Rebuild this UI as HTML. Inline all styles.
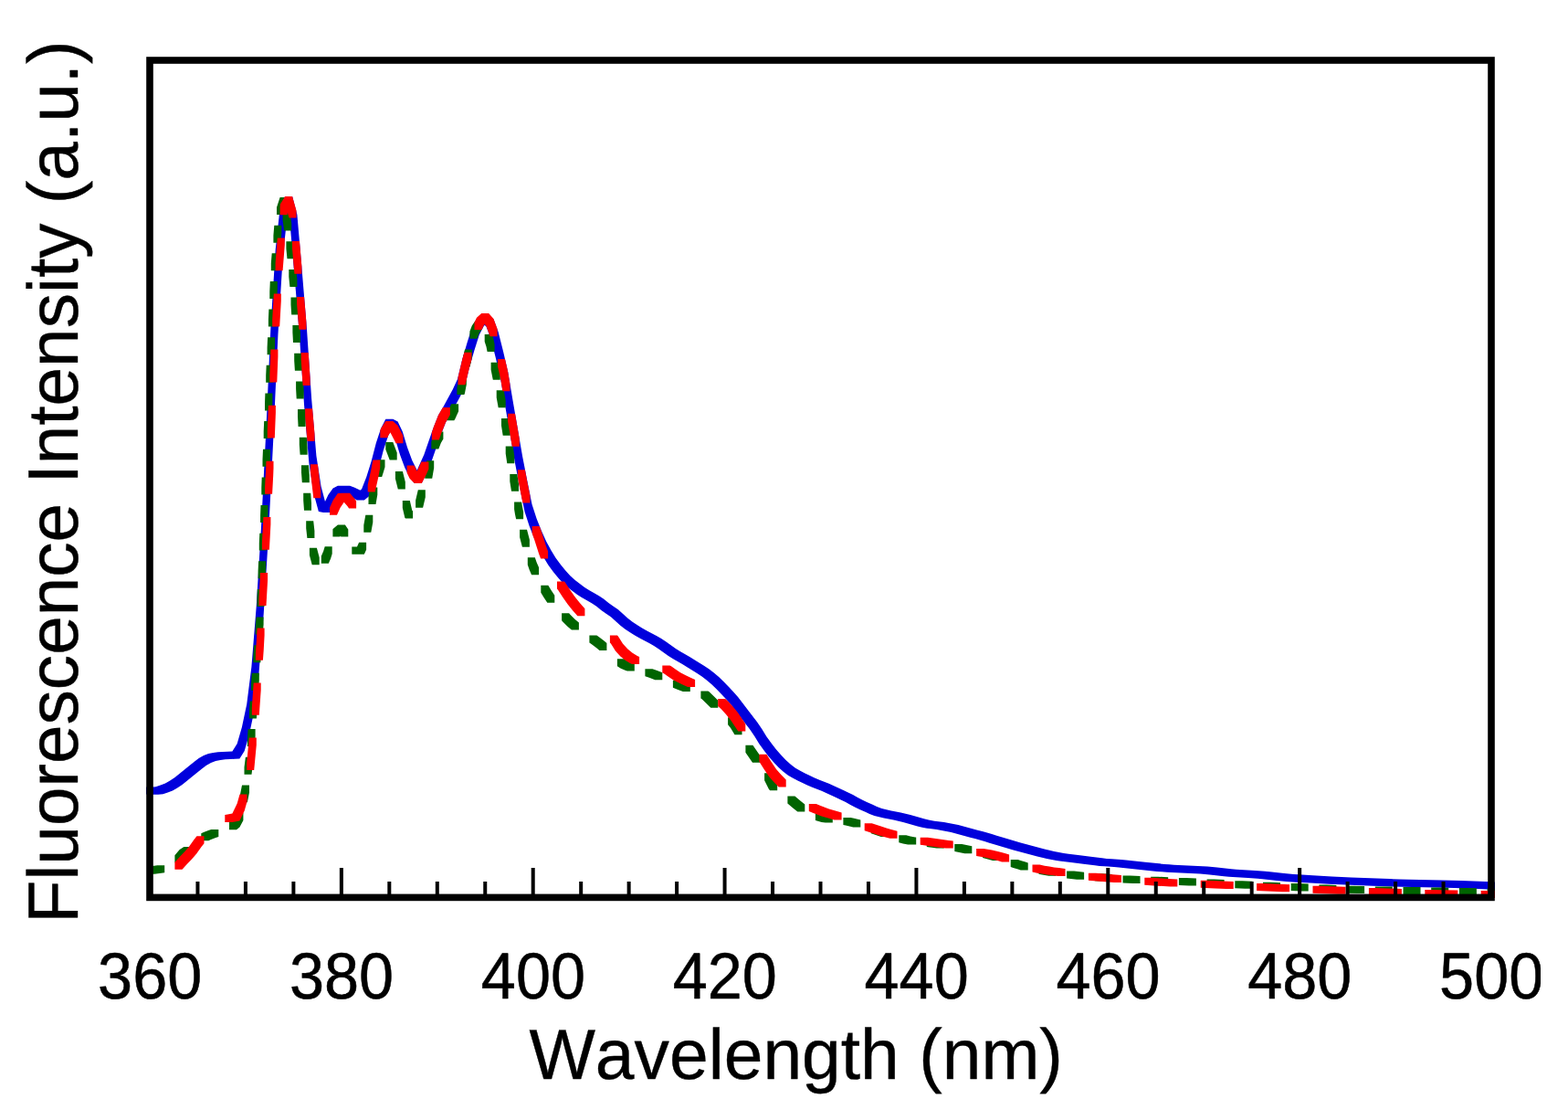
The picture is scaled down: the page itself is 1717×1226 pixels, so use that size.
<!DOCTYPE html>
<html lang="en"><head><meta charset="utf-8"><title>Fluorescence spectra</title>
<style>html,body{margin:0;padding:0;background:#fff}body{width:1717px;height:1226px;overflow:hidden}svg{display:block}</style>
</head><body>
<svg width="1717" height="1226" viewBox="0 0 1717 1226">
<rect width="1717" height="1226" fill="#fff"/>
<path d="M348.9 560.0L354.1 561.0L362.1 561.0L367.4 549.8L372.6 542.6L376.8 540.4L380.4 541.7L385.6 544.3L390.8 547.5L398.8 547.5L404.1 543.3L409.3 530.0L414.6 513.0L419.8 493.0L425.1 477.0L428.2 470.9L432.8 480.5L438.1 498.0L443.3 512.1L448.6 522.5L453.8 529.0L461.8 529.0L467.0 517.5L472.3 505.7L477.5 490.8L482.8 475.7L488.0 462.5L493.3 453.4L503.8 434.3L509.0 423.1L514.3 400.9L519.5 383.3L524.8 366.5L530.0 356.5L530.8 355.9L532.5 357.5L537.7 371.5L543.0 392.5L548.2 415.1L553.5 446.3L564.0 506.9L569.2 533.8L574.5 560.0L579.7 576.0L585.0 589.2L590.2 600.7L595.5 610.6L600.7 618.9L605.9 625.9L611.2 632.4L616.4 638.3L621.7 643.0L626.9 647.1L632.2 650.9L637.4 654.3L642.7 657.2L647.9 660.3L653.2 663.7L658.4 667.9L663.7 671.7L668.9 675.2L679.4 684.7L684.6 688.7L689.9 692.3L695.1 695.6L700.4 698.4L705.6 701.2L710.9 704.0L716.1 707.0L721.4 710.5L731.9 717.9L737.1 721.3L742.4 724.3L747.6 727.2L752.8 730.4L763.3 736.9L768.6 740.5L773.8 744.5L779.1 749.1L784.3 754.1L789.6 759.4L794.8 765.0L800.1 771.1L805.3 777.8L810.6 784.8L821.0 798.3L826.3 805.9L831.5 814.5L836.8 821.7L842.0 828.5L847.3 834.6L852.5 840.0L857.8 844.8L863.0 848.7L868.3 851.8L873.5 854.5L878.8 857.1L884.0 859.6L889.3 861.8L899.7 865.7L915.5 872.9L920.7 875.4L926.0 878.1L931.2 881.1L936.5 883.8L941.7 886.2L947.0 888.4L952.2 890.9L957.5 893.1L962.7 894.3L967.9 895.4L973.2 896.5L978.4 897.4L988.9 900.0L994.2 901.5L1004.7 904.6L1009.9 905.8L1015.2 906.7L1025.7 908.1L1030.9 909.0L1041.4 911.0L1062.4 916.8L1067.6 918.0L1072.9 919.4L1078.1 921.0L1083.4 922.7L1088.6 924.2L1109.6 930.4L1135.8 937.5L1141.1 938.8L1146.3 940.0L1151.6 941.1L1156.8 942.0L1162.1 942.8L1172.6 944.1L1188.3 945.9L1198.8 947.3L1204.0 947.9L1209.3 948.3L1219.8 949.1L1225.0 949.6L1246.0 951.8L1267.0 953.9L1272.2 954.3L1277.5 954.7L1282.7 955.0L1303.7 956.0L1309.0 956.2L1314.2 956.5L1319.5 956.9L1324.7 957.5L1340.4 959.3L1345.7 959.7L1366.7 961.1L1377.2 961.8L1382.4 962.3L1398.2 964.0L1403.4 964.5L1408.6 965.0L1419.1 965.7L1434.9 966.6L1455.9 967.7L1503.1 969.7L1518.8 970.3L1534.6 970.8L1571.3 971.5L1581.8 971.8L1592.3 972.1L1618.5 973.1L1629.0 973.4L1637.0 973.4L1637.0 965.4L1626.5 965.1L1600.3 964.1L1589.8 963.8L1579.3 963.5L1542.6 962.8L1532.1 962.5L1521.6 962.1L1479.6 960.4L1458.6 959.4L1437.6 958.3L1421.9 957.3L1416.6 957.0L1411.4 956.5L1406.2 956.0L1390.4 954.3L1385.2 953.8L1374.7 953.1L1353.7 951.7L1348.4 951.3L1332.7 949.5L1327.5 948.9L1322.2 948.5L1317.0 948.2L1311.7 948.0L1290.7 947.0L1285.5 946.7L1280.2 946.3L1275.0 945.9L1254.0 943.8L1233.0 941.6L1227.8 941.1L1217.3 940.3L1212.0 939.9L1206.8 939.3L1196.3 937.9L1180.6 936.1L1170.1 934.8L1164.8 934.0L1159.6 933.1L1154.3 932.0L1149.1 930.8L1143.8 929.5L1117.6 922.4L1096.6 916.2L1091.4 914.7L1086.1 913.0L1080.9 911.4L1075.6 910.0L1070.4 908.8L1049.4 903.0L1038.9 901.0L1033.7 900.1L1023.2 898.7L1017.9 897.8L1012.7 896.6L1002.2 893.5L996.9 892.0L986.4 889.4L981.2 888.5L975.9 887.4L970.7 886.3L965.5 885.1L960.2 882.9L955.0 880.4L949.7 878.2L944.5 875.8L939.2 873.1L934.0 870.1L928.7 867.4L923.5 864.9L907.7 857.7L897.3 853.8L892.0 851.6L886.8 849.1L881.5 846.5L876.3 843.8L871.0 840.7L865.8 836.8L860.5 832.0L855.3 826.6L850.0 820.5L844.8 813.7L839.5 806.5L834.3 797.9L829.0 790.3L818.6 776.8L813.3 769.8L808.1 763.1L802.8 757.0L797.6 751.4L792.3 746.1L787.1 741.1L781.8 736.5L776.6 732.5L771.3 728.9L760.8 722.4L755.6 719.2L750.4 716.3L745.1 713.3L739.9 709.9L729.4 702.5L724.1 699.0L718.9 696.0L713.6 693.2L708.4 690.4L703.1 687.6L697.9 684.3L692.6 680.7L687.4 676.7L676.9 667.2L671.7 663.7L666.4 659.9L661.2 655.7L655.9 652.3L650.7 649.2L645.4 646.3L640.2 642.9L634.9 639.1L629.7 635.0L624.4 630.3L619.2 624.4L613.9 617.9L608.7 610.9L603.5 602.6L598.2 592.7L593.0 581.2L587.7 568.0L582.5 552.0L577.2 525.8L572.0 498.9L561.5 438.3L556.2 407.1L551.0 384.5L545.7 363.5L540.5 349.5L535.2 344.4L527.2 344.4L522.0 348.5L516.8 358.5L511.5 375.3L506.3 392.9L501.0 415.1L495.8 426.3L485.3 445.4L480.0 454.5L474.8 467.7L469.5 482.8L464.3 497.7L459.0 509.5L456.7 514.7L456.6 514.5L451.3 504.1L446.1 490.0L440.8 472.5L435.6 461.5L430.3 458.8L422.3 458.8L417.1 469.0L411.8 485.0L406.6 505.0L401.3 522.0L396.1 535.3L394.3 536.7L393.6 536.3L388.4 533.7L383.1 531.8L375.1 531.8L369.9 531.8L364.6 534.6L359.4 541.8L356.0 548.9L351.6 532.5L346.4 499.0L341.1 436.0L335.9 359.0L330.6 295.0L325.4 235.0L320.1 215.0L312.1 215.0L306.9 225.0L301.7 273.0L296.4 359.0L291.2 474.0L285.9 579.0L280.7 664.0L275.4 730.0L270.2 771.0L264.9 796.0L259.7 814.0L254.4 822.5L249.2 822.8L243.9 823.0L238.7 823.3L233.4 824.0L228.2 825.0L223.0 827.0L217.7 830.0L212.5 834.0L207.2 838.3L191.5 851.0L186.2 854.5L181.0 857.5L175.7 859.5L170.5 861.2L167.9 861.5L160.0 861.5L160.0 869.5L165.2 869.8L173.2 869.8L178.5 869.2L183.7 867.5L189.0 865.5L194.2 862.5L199.5 859.0L215.2 846.3L220.5 842.0L225.7 838.0L231.0 835.0L236.2 833.0L241.4 832.0L246.7 831.3L251.9 831.0L257.2 830.8L262.4 830.5L267.7 822.0L272.9 804.0L278.2 779.0L283.4 738.0L288.7 672.0L293.9 587.0L299.2 482.0L304.4 367.0L309.7 281.0L314.9 233.4L317.4 243.0L322.6 303.0L327.9 367.0L333.1 444.0L338.4 507.0L343.6 540.5Z" fill="#0000dc"/>
<path d="M170.5 947.6L161.2 948.8L161.2 956.8L169.2 956.8L178.5 955.6L180.2 955.2L180.2 947.2L172.2 947.2ZM196.7 930.0L191.4 936.3L191.4 944.3L199.4 944.3L204.7 938.0L209.4 934.9L209.4 926.9L201.4 926.9ZM228.2 908.9L223.0 910.9L220.3 912.3L220.3 920.3L228.3 920.3L231.0 918.9L236.2 916.9L239.3 916.1L239.3 908.1L231.3 908.1ZM254.4 897.5L251.0 900.3L251.0 908.3L259.0 908.3L262.4 905.5L266.4 898.0L266.4 890.0L258.4 890.0ZM265.0 859.4L262.9 870.3L262.9 878.3L270.9 878.3L273.0 867.4L273.0 859.4ZM268.9 828.7L267.5 839.7L267.5 847.7L275.5 847.7L276.9 836.7L276.9 828.7ZM271.6 798.1L270.9 809.1L270.9 817.1L278.9 817.1L279.6 806.1L279.6 798.1ZM273.7 767.5L272.9 778.4L272.9 786.4L280.9 786.4L281.7 775.5L281.7 767.5ZM275.8 736.8L275.0 747.8L275.0 755.8L283.0 755.8L283.8 744.8L283.8 736.8ZM278.2 706.2L277.3 717.2L277.3 725.2L285.3 725.2L286.2 714.2L286.2 706.2ZM280.6 675.6L279.7 686.5L279.7 694.5L287.7 694.5L288.6 683.6L288.6 675.6ZM281.8 644.9L281.4 655.9L281.4 663.9L289.4 663.9L289.8 652.9L289.8 644.9ZM283.1 614.3L282.6 625.3L282.6 633.3L290.6 633.3L291.1 622.3L291.1 614.3ZM284.3 583.7L283.8 594.6L283.8 602.6L291.8 602.6L292.3 591.7L292.3 583.7ZM285.5 553.0L285.1 564.0L285.1 572.0L293.1 572.0L293.5 561.0L293.5 553.0ZM286.7 522.4L286.3 533.4L286.3 541.4L294.3 541.4L294.7 530.4L294.7 522.4ZM288.0 491.7L287.5 502.7L287.5 510.7L295.5 510.7L296.0 499.7L296.0 491.7ZM289.2 461.1L288.7 472.1L288.7 480.1L296.7 480.1L297.2 469.1L297.2 461.1ZM290.4 430.5L290.0 441.5L290.0 449.5L298.0 449.5L298.4 438.5L298.4 430.5ZM291.7 399.8L291.2 410.8L291.2 418.8L299.2 418.8L299.7 407.8L299.7 399.8ZM293.1 369.2L292.6 380.2L292.6 388.2L300.6 388.2L301.1 377.2L301.1 369.2ZM294.4 338.6L293.9 349.6L293.9 357.6L301.9 357.6L302.4 346.6L302.4 338.6ZM295.8 307.9L295.3 318.9L295.3 326.9L303.3 326.9L303.8 315.9L303.8 307.9ZM297.7 277.3L296.8 288.3L296.8 296.3L304.8 296.3L305.7 285.3L305.7 277.3ZM300.3 246.7L299.4 257.7L299.4 265.7L307.4 265.7L308.3 254.7L308.3 246.7ZM306.6 216.0L303.0 227.0L303.0 235.0L311.0 235.0L314.6 224.0L314.6 216.0ZM309.6 233.6L309.6 241.6L311.2 252.6L319.2 252.6L319.2 244.6L317.6 233.6ZM313.4 264.2L313.4 272.2L314.5 283.2L322.5 283.2L322.5 275.2L321.4 264.2ZM316.3 294.9L316.3 302.9L317.4 313.9L325.4 313.9L325.4 305.9L324.3 294.9ZM318.5 325.5L318.5 333.5L319.2 344.5L327.2 344.5L327.2 336.5L326.5 325.5ZM320.4 356.1L320.4 364.1L321.0 375.1L329.0 375.1L329.0 367.1L328.4 356.1ZM322.2 394.8L322.9 405.8L330.9 405.8L330.9 397.8L330.2 386.8L322.2 386.8ZM324.1 417.4L324.1 425.4L324.7 436.4L332.7 436.4L332.7 428.4L332.1 417.4ZM326.0 448.0L326.0 456.0L326.6 467.0L334.6 467.0L334.6 459.0L334.0 448.0ZM327.8 486.7L328.6 497.7L336.6 497.7L336.6 489.7L335.8 478.7L327.8 478.7ZM330.0 509.3L330.0 517.3L330.8 528.2L338.8 528.2L338.8 520.2L338.0 509.3ZM332.2 539.8L332.2 547.8L333.0 558.8L341.0 558.8L341.0 550.8L340.2 539.8ZM335.2 570.3L335.2 578.3L336.4 588.9L344.4 588.9L344.4 580.9L343.2 570.3ZM338.9 599.7L338.9 607.7L341.7 618.2L349.7 618.2L349.7 610.2L346.9 599.7ZM354.1 603.4L351.8 608.7L351.8 616.7L359.8 616.7L362.1 611.4L363.7 606.2L363.7 598.2L355.7 598.2ZM364.6 579.0L364.4 579.4L364.4 587.4L372.4 587.4L372.6 587.0L372.9 586.8L373.3 587.4L381.3 587.4L381.3 579.4L377.9 574.4L369.9 574.4ZM391.0 598.4L385.3 598.4L385.3 606.4L385.6 606.7L398.8 606.7L401.1 601.7L401.1 593.7L393.1 593.7ZM400.3 563.7L398.3 574.7L398.3 582.7L406.3 582.7L408.3 571.7L408.3 563.7ZM405.3 533.4L403.5 544.1L403.5 552.1L411.5 552.1L413.3 541.4L413.3 533.4ZM411.8 509.0L410.2 514.1L410.2 522.1L418.2 522.1L419.8 517.0L421.5 511.3L421.5 503.3L413.5 503.3ZM422.3 484.0L422.3 492.0L426.7 503.5L434.7 503.5L434.7 495.5L430.3 484.0ZM432.9 516.1L432.9 524.1L435.8 535.5L443.8 535.5L443.8 527.5L440.9 516.1ZM440.8 556.1L443.3 566.8L444.1 567.6L452.1 567.6L452.1 559.6L451.3 558.8L448.8 548.1L440.8 548.1ZM457.8 536.2L455.1 547.7L455.1 555.7L463.1 555.7L465.8 544.2L465.8 536.2ZM467.2 504.2L465.2 515.7L465.2 523.7L473.2 523.7L475.2 512.2L475.2 504.2ZM474.8 477.1L472.3 483.6L472.3 491.6L480.3 491.6L482.8 485.1L485.4 480.4L485.4 472.4L477.4 472.4ZM490.5 450.2L489.3 452.3L489.3 460.3L497.3 460.3L498.5 458.2L502.1 450.2L502.1 442.2L494.1 442.2ZM501.0 422.3L500.4 424.1L500.4 432.1L508.4 432.1L509.0 430.3L510.8 421.1L510.8 413.1L502.8 413.1ZM509.0 382.4L506.6 393.4L506.6 401.4L514.6 401.4L517.0 390.4L517.0 382.4ZM516.8 356.5L514.4 362.7L514.4 370.7L522.4 370.7L524.8 364.5L528.1 359.7L528.1 351.7L520.1 351.7ZM530.7 374.0L532.5 379.5L533.6 385.0L541.6 385.0L541.6 377.0L540.5 371.5L538.7 366.0L530.7 366.0ZM537.6 404.7L539.8 415.7L547.8 415.7L547.8 407.7L545.6 396.7L537.6 396.7ZM543.7 427.3L543.7 435.3L545.7 446.3L553.7 446.3L553.7 438.3L551.7 427.3ZM549.0 457.9L549.0 465.9L550.7 476.8L558.7 476.8L558.7 468.8L557.0 457.9ZM553.7 488.4L553.7 496.4L555.3 507.3L563.3 507.3L563.3 499.3L561.7 488.4ZM558.3 526.9L560.0 537.8L568.0 537.8L568.0 529.8L566.3 518.9L558.3 518.9ZM563.1 557.4L564.0 563.0L565.1 568.3L573.1 568.3L573.1 560.3L572.0 555.0L571.1 549.4L563.1 549.4ZM569.1 587.8L569.2 588.4L571.9 598.8L579.9 598.8L579.9 590.8L577.2 580.4L577.1 579.8L569.1 579.8ZM577.8 618.3L579.7 623.8L582.1 629.2L590.1 629.2L590.1 621.2L587.7 615.8L585.8 610.3L577.8 610.3ZM592.3 648.8L595.5 654.1L599.3 659.7L607.3 659.7L607.3 651.7L603.5 646.1L600.3 640.8L592.3 640.8ZM615.1 679.3L616.4 680.8L621.7 686.0L625.9 689.5L633.9 689.5L633.9 681.5L629.7 678.0L624.4 672.8L623.1 671.3L615.1 671.3ZM645.4 703.5L647.9 705.2L653.2 709.2L656.4 712.1L664.4 712.1L664.4 704.1L661.2 701.2L655.9 697.2L653.4 695.5L645.4 695.5ZM675.9 729.3L679.4 731.5L684.6 733.8L686.8 734.5L694.8 734.5L694.8 726.5L692.6 725.8L687.4 723.5L683.9 721.3L675.9 721.3ZM706.4 740.2L710.9 741.7L717.3 744.3L725.3 744.3L725.3 736.3L718.9 733.7L714.4 732.2L706.4 732.2ZM736.9 752.8L742.4 755.1L747.8 757.1L755.8 757.1L755.8 749.1L750.4 747.1L744.9 744.8L736.9 744.8ZM767.4 764.5L768.6 765.2L778.3 774.7L786.3 774.7L786.3 766.7L776.6 757.2L775.4 756.5L767.4 756.5ZM797.1 793.3L800.1 797.1L804.5 804.2L812.5 804.2L812.5 796.2L808.1 789.1L805.1 785.3L797.1 785.3ZM816.4 823.8L824.0 834.7L832.0 834.7L832.0 826.7L824.4 815.8L816.4 815.8ZM837.1 854.2L842.0 863.9L843.2 865.2L851.2 865.2L851.2 857.2L850.0 855.9L845.1 846.2L837.1 846.2ZM862.4 879.5L863.0 879.9L868.3 884.6L873.3 888.5L881.3 888.5L881.3 880.5L876.3 876.6L871.0 871.9L870.4 871.5L862.4 871.5ZM892.9 898.0L894.5 898.6L899.7 899.9L903.8 900.6L911.8 900.6L911.8 892.6L907.7 891.9L902.5 890.6L900.9 890.0L892.9 890.0ZM923.4 903.0L926.0 903.4L931.2 904.7L934.3 905.6L942.3 905.6L942.3 897.6L939.2 896.7L934.0 895.4L931.4 895.0L923.4 895.0ZM953.8 912.3L957.5 913.5L964.8 915.9L972.8 915.9L972.8 907.9L965.5 905.5L961.8 904.3L953.8 904.3ZM984.3 922.2L988.9 923.4L994.2 924.4L995.2 924.5L1003.2 924.5L1003.2 916.5L1002.2 916.4L996.9 915.4L992.3 914.2L984.3 914.2ZM1014.8 927.1L1020.4 927.8L1025.7 928.6L1033.7 928.6L1033.7 920.6L1028.4 919.8L1022.8 919.1L1014.8 919.1ZM1045.3 932.1L1056.3 934.3L1064.3 934.3L1064.3 926.3L1053.3 924.1L1045.3 924.1ZM1076.0 938.9L1083.4 940.9L1087.0 942.0L1095.0 942.0L1095.0 934.0L1091.4 932.9L1084.0 930.9L1076.0 930.9ZM1106.7 949.1L1109.6 950.1L1114.8 951.6L1117.7 952.4L1125.7 952.4L1125.7 944.4L1122.8 943.6L1117.6 942.1L1114.7 941.1L1106.7 941.1ZM1137.4 956.8L1141.1 957.5L1148.4 958.7L1156.4 958.7L1156.4 950.7L1149.1 949.5L1145.4 948.8L1137.4 948.8ZM1168.1 961.6L1172.6 962.1L1179.1 962.7L1187.1 962.7L1187.1 954.7L1180.6 954.1L1176.1 953.6L1168.1 953.6ZM1198.8 964.3L1209.8 965.1L1217.8 965.1L1217.8 957.1L1206.8 956.3L1198.8 956.3ZM1229.5 966.5L1240.5 967.0L1248.5 967.0L1248.5 959.0L1237.5 958.5L1229.5 958.5ZM1260.2 967.8L1271.2 968.2L1279.2 968.2L1279.2 960.2L1268.2 959.8L1260.2 959.8ZM1290.9 969.0L1301.9 969.5L1309.9 969.5L1309.9 961.5L1298.9 961.0L1290.9 961.0ZM1321.6 970.5L1332.6 971.1L1340.6 971.1L1340.6 963.1L1329.6 962.5L1321.6 962.5ZM1352.3 972.2L1363.3 972.8L1371.3 972.8L1371.3 964.8L1360.3 964.2L1352.3 964.2ZM1383.0 973.7L1394.0 974.2L1402.0 974.2L1402.0 966.2L1391.0 965.7L1383.0 965.7ZM1413.7 975.1L1424.7 975.6L1432.7 975.6L1432.7 967.6L1421.7 967.1L1413.7 967.1ZM1444.4 976.5L1455.4 977.0L1463.4 977.0L1463.4 969.0L1452.4 968.5L1444.4 968.5ZM1475.1 977.8L1486.1 978.1L1494.1 978.1L1494.1 970.1L1483.1 969.8L1475.1 969.8ZM1505.8 978.5L1516.8 978.6L1524.8 978.6L1524.8 970.6L1513.8 970.5L1505.8 970.5ZM1536.5 978.9L1547.5 979.1L1555.5 979.1L1555.5 971.1L1544.5 970.9L1536.5 970.9ZM1567.2 979.5L1578.2 979.7L1586.2 979.7L1586.2 971.7L1575.2 971.5L1567.2 971.5ZM1597.9 980.1L1608.9 980.3L1616.9 980.3L1616.9 972.3L1605.9 972.1L1597.9 972.1ZM1628.6 972.7L1628.6 980.7L1637.0 980.7L1637.0 972.7Z" fill="#006400"/>
<path d="M207.2 926.5L202.0 932.5L196.7 938.0L191.5 943.8L191.4 943.8L191.4 951.8L199.5 951.8L204.7 946.0L210.0 940.5L215.2 934.5L220.5 927.0L223.5 923.3L223.5 915.3L215.5 915.3L212.5 919.0ZM254.4 890.6L249.2 891.4L246.3 892.0L246.3 900.0L254.3 900.0L257.2 899.4L262.4 898.6L267.7 887.5L270.5 877.6L270.5 869.6L262.5 869.6L259.7 879.5ZM272.8 807.5L270.2 834.9L270.2 842.9L278.2 842.9L280.8 815.5L280.8 807.5ZM277.7 747.4L275.8 774.8L275.8 782.8L283.8 782.8L285.7 755.4L285.7 747.4ZM280.7 703.9L279.9 714.8L279.9 722.8L287.9 722.8L288.7 711.9L289.6 695.5L289.6 687.5L281.6 687.5ZM285.1 627.0L283.5 654.9L283.5 662.9L291.5 662.9L293.1 635.0L293.1 627.0ZM288.4 565.9L286.9 593.8L286.9 601.8L294.9 601.8L296.4 573.9L296.4 565.9ZM291.2 512.4L290.1 532.7L290.1 540.7L298.1 540.7L299.2 520.4L299.5 512.8L299.5 504.8L291.5 504.8ZM293.9 443.7L292.8 471.6L292.8 479.6L300.8 479.6L301.9 451.7L301.9 443.7ZM296.4 382.6L295.3 410.5L295.3 418.5L303.3 418.5L304.4 390.6L304.4 382.6ZM299.8 321.5L298.2 349.4L298.2 357.4L306.2 357.4L307.8 329.5L307.8 321.5ZM301.7 286.8L301.6 288.3L301.6 296.3L309.6 296.3L309.7 294.8L311.8 268.5L311.8 260.5L303.8 260.5ZM306.9 223.5L306.6 227.2L306.6 235.2L314.6 235.2L314.8 232.6L316.5 238.6L324.5 238.6L324.5 230.6L320.1 215.0L312.1 215.0ZM320.0 263.9L320.0 271.9L322.4 299.7L330.4 299.7L330.4 291.7L328.0 263.9ZM325.1 325.0L325.1 333.0L327.4 360.8L335.4 360.8L335.4 352.8L333.1 325.0ZM329.7 386.1L329.7 394.1L331.6 421.9L339.6 421.9L339.6 413.9L337.7 386.1ZM334.1 447.2L334.1 455.2L336.5 483.0L344.5 483.0L344.5 475.0L342.1 447.2ZM339.9 508.3L339.9 516.3L343.3 545.3L351.3 545.3L351.3 537.3L347.9 508.3ZM380.4 554.0L382.1 556.6L390.1 556.6L390.1 548.6L388.4 546.0L383.1 539.8L375.1 539.8L369.9 540.0L364.6 547.7L361.0 555.7L361.0 563.7L369.0 563.7L372.6 555.7L376.7 549.7ZM406.6 513.0L402.7 530.6L402.7 538.6L410.7 538.6L414.6 521.0L416.3 511.5L416.3 503.5L408.3 503.5ZM430.3 460.9L422.3 460.9L417.1 469.0L416.3 471.2L416.3 479.2L424.3 479.2L425.1 477.0L427.3 473.6L427.6 473.8L432.8 483.7L433.4 485.3L441.4 485.3L441.4 477.3L440.8 475.7L435.6 465.8ZM469.4 513.4L469.4 505.4L461.4 505.4L459.0 510.9L456.6 515.7L453.6 509.6L445.6 509.6L445.6 517.6L448.6 523.7L453.8 528.9L461.8 528.9L467.0 518.9ZM480.0 454.5L474.8 467.6L472.8 473.5L472.8 481.5L480.8 481.5L482.8 475.6L488.0 462.5L492.9 454.0L492.9 446.0L484.9 446.0ZM506.3 392.9L501.5 413.2L501.5 421.2L509.5 421.2L514.3 400.9L516.4 393.7L516.4 385.7L508.4 385.7ZM530.8 355.1L532.5 357.0L536.6 368.2L544.6 368.2L544.6 360.2L540.5 349.0L535.2 343.1L527.2 343.1L522.0 347.8L519.5 352.9L519.5 360.9L527.5 360.9L530.0 355.8ZM545.0 401.0L548.2 415.1L550.4 428.2L558.4 428.2L558.4 420.2L556.2 407.1L553.0 393.0L545.0 393.0ZM556.0 460.7L560.8 488.8L568.8 488.8L568.8 480.8L564.0 452.7L556.0 452.7ZM566.9 522.3L569.2 534.5L572.4 550.4L580.4 550.4L580.4 542.4L577.2 526.5L574.9 514.3L566.9 514.3ZM582.7 583.9L585.0 590.3L590.2 606.5L592.1 611.5L600.1 611.5L600.1 603.5L598.2 598.5L593.0 582.3L590.7 575.9L582.7 575.9ZM611.2 646.0L616.4 654.0L621.7 661.4L626.9 668.0L632.4 674.2L640.4 674.2L640.4 666.2L634.9 660.0L629.7 653.4L624.4 646.0L619.2 638.0L618.0 636.4L610.0 636.4L610.0 644.4ZM668.9 704.6L674.1 712.7L679.4 718.6L684.6 722.7L689.9 725.9L692.1 726.9L700.1 726.9L700.1 718.9L697.9 717.9L692.6 714.7L687.4 710.6L682.1 704.7L676.9 696.6L675.9 695.6L667.9 695.6L667.9 703.6ZM726.6 737.1L731.9 740.8L737.1 744.2L742.4 747.0L747.6 749.5L753.1 751.9L761.1 751.9L761.1 743.9L755.6 741.5L750.4 739.0L745.1 736.2L739.9 732.8L734.6 729.1L733.3 728.4L725.3 728.4L725.3 736.4ZM789.6 776.1L794.8 781.8L800.1 788.3L805.3 796.1L808.3 800.5L816.3 800.5L816.3 792.5L813.3 788.1L808.1 780.3L802.8 773.8L797.6 768.1L794.2 764.9L786.2 764.9L786.2 772.9ZM831.4 833.7L836.8 842.3L842.0 850.0L847.3 856.0L852.7 861.5L860.7 861.5L860.7 853.5L855.3 848.0L850.0 842.0L844.8 834.3L839.4 825.7L831.4 825.7ZM889.3 889.6L894.5 891.6L899.7 893.4L905.0 895.0L910.2 896.5L913.6 897.6L921.6 897.6L921.6 889.6L918.2 888.5L913.0 887.0L907.7 885.4L902.5 883.6L897.3 881.6L893.8 880.1L885.8 880.1L885.8 888.1ZM946.7 909.2L957.5 912.8L962.7 914.4L967.9 916.0L974.5 917.8L982.5 917.8L982.5 909.8L975.9 908.0L970.7 906.4L965.5 904.8L954.7 901.2L946.7 901.2ZM1009.9 925.1L1030.9 927.9L1035.7 928.6L1043.7 928.6L1043.7 920.6L1038.9 919.9L1023.2 917.8L1015.7 916.7L1007.7 916.7L1007.7 924.7ZM1069.1 937.1L1078.1 938.6L1083.4 939.7L1088.6 941.0L1093.9 942.5L1097.1 943.4L1105.1 943.4L1105.1 935.4L1101.9 934.5L1096.6 933.0L1091.4 931.7L1086.1 930.6L1077.1 929.1L1069.1 929.1ZM1130.5 954.6L1135.8 955.7L1141.1 956.6L1146.3 957.4L1151.6 958.1L1158.5 958.9L1166.5 958.9L1166.5 950.9L1159.6 950.1L1154.3 949.4L1149.1 948.6L1143.8 947.7L1138.5 946.6L1130.5 946.6ZM1191.9 963.8L1204.0 964.7L1219.9 966.1L1227.9 966.1L1227.9 958.1L1212.0 956.7L1199.9 955.8L1191.9 955.8ZM1253.3 968.8L1267.0 969.7L1281.3 970.4L1289.3 970.4L1289.3 962.4L1275.0 961.7L1261.3 960.8L1253.3 960.8ZM1314.7 971.8L1330.0 972.5L1342.7 973.1L1350.7 973.1L1350.7 965.1L1338.0 964.5L1322.7 963.8L1314.7 963.8ZM1376.1 975.0L1404.1 976.3L1412.1 976.3L1412.1 968.3L1384.1 967.0L1376.1 967.0ZM1437.5 977.7L1465.5 978.8L1473.5 978.8L1473.5 970.8L1445.5 969.7L1437.5 969.7ZM1498.9 980.0L1526.9 981.0L1534.9 981.0L1534.9 973.0L1506.9 972.0L1498.9 972.0ZM1560.3 981.9L1571.3 982.2L1588.3 982.5L1596.3 982.5L1596.3 974.5L1579.3 974.2L1568.3 973.9L1560.3 973.9ZM1621.7 982.9L1629.0 983.0L1637.0 983.0L1637.0 975.0L1629.7 974.9L1621.7 974.9Z" fill="#ff0000"/>
<path d="M216.46 965.0V982.4M268.93 965.0V982.4M321.39 965.0V982.4M373.86 950.0V982.4M426.32 965.0V982.4M478.79 965.0V982.4M531.25 965.0V982.4M583.71 950.0V982.4M636.18 965.0V982.4M688.64 965.0V982.4M741.11 965.0V982.4M793.57 950.0V982.4M846.04 965.0V982.4M898.50 965.0V982.4M950.96 965.0V982.4M1003.43 950.0V982.4M1055.89 965.0V982.4M1108.36 965.0V982.4M1160.82 965.0V982.4M1213.29 950.0V982.4M1265.75 965.0V982.4M1318.21 965.0V982.4M1370.68 965.0V982.4M1423.14 950.0V982.4M1475.61 965.0V982.4M1528.07 965.0V982.4M1580.54 965.0V982.4" stroke="#000" stroke-width="4" fill="none"/>
<rect x="164.0" y="66.0" width="1469.0" height="916.4" fill="none" stroke="#000" stroke-width="7.6"/>
<g font-family="'Liberation Sans', Arial, Helvetica, sans-serif" font-size="70" fill="#000" style="font-kerning:none;text-rendering:geometricPrecision" stroke="#000" stroke-width="0.5" stroke-linejoin="round"><text transform="translate(164.20 1093) scale(0.9776 1.025)" text-anchor="middle">360</text><text transform="translate(374.06 1093) scale(0.9776 1.025)" text-anchor="middle">380</text><text transform="translate(583.91 1093) scale(0.9776 1.025)" text-anchor="middle">400</text><text transform="translate(793.77 1093) scale(0.9776 1.025)" text-anchor="middle">420</text><text transform="translate(1003.63 1093) scale(0.9776 1.025)" text-anchor="middle">440</text><text transform="translate(1213.49 1093) scale(0.9776 1.025)" text-anchor="middle">460</text><text transform="translate(1423.34 1093) scale(0.9776 1.025)" text-anchor="middle">480</text><text transform="translate(1633.20 1093) scale(0.9776 1.025)" text-anchor="middle">500</text></g>
<text transform="translate(871.65 1181) scale(0.9971 1.012)" text-anchor="middle" font-family="'Liberation Sans', Arial, Helvetica, sans-serif" font-size="77" fill="#000" style="font-kerning:none;text-rendering:geometricPrecision" stroke="#000" stroke-width="0.4" stroke-linejoin="round">Wavelength (nm)</text>
<text transform="translate(85.3 527.46) rotate(-90) scale(0.9943 1.012)" text-anchor="middle" font-family="'Liberation Sans', Arial, Helvetica, sans-serif" font-size="77" fill="#000" style="font-kerning:none;text-rendering:geometricPrecision" stroke="#000" stroke-width="0.4" stroke-linejoin="round">Fluorescence Intensity (a.u.)</text>
<rect id="clip500" x="1687" y="1030" width="30" height="80" fill="#fff"/>
</svg>
</body></html>
